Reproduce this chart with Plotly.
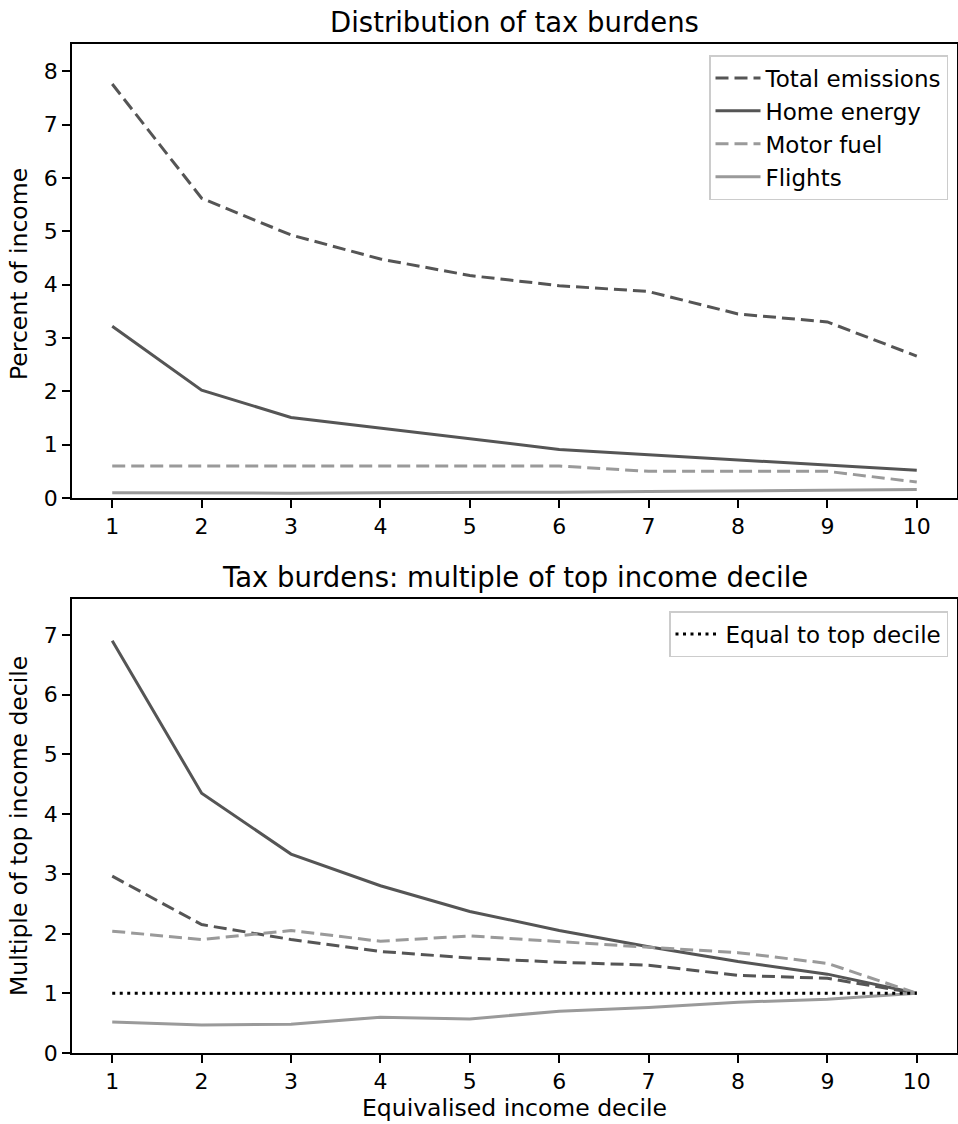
import plotly.graph_objects as go

deciles = [1, 2, 3, 4, 5, 6, 7, 8, 9, 10]

top_total = [7.76, 5.62, 4.93, 4.48, 4.17, 3.98, 3.87, 3.45, 3.30, 2.66]
top_home = [3.22, 2.02, 1.51, 1.31, 1.10, 0.91, 0.81, 0.71, 0.62, 0.52]
top_motor = [0.60, 0.60, 0.60, 0.60, 0.60, 0.60, 0.50, 0.50, 0.50, 0.30]
top_flights = [0.10, 0.09, 0.09, 0.10, 0.10, 0.11, 0.12, 0.13, 0.14, 0.16]

bot_total = [2.96, 2.15, 1.90, 1.70, 1.59, 1.52, 1.47, 1.30, 1.25, 1.00]
bot_home = [6.90, 4.35, 3.33, 2.80, 2.37, 2.05, 1.78, 1.53, 1.32, 1.00]
bot_motor = [2.04, 1.90, 2.05, 1.87, 1.96, 1.86, 1.77, 1.68, 1.50, 1.00]
bot_flights = [0.52, 0.47, 0.48, 0.60, 0.57, 0.70, 0.76, 0.85, 0.90, 1.00]
equal_top = [1, 1, 1, 1, 1, 1, 1, 1, 1, 1]

series_names = ["Total emissions", "Home energy", "Motor fuel", "Flights"]

DARK = "#555555"
LIGHT = "#9a9a9a"
DASH = "13px,6px"
styles = [
    dict(color=DARK, width=3, dash=DASH),
    dict(color=DARK, width=3),
    dict(color=LIGHT, width=3, dash=DASH),
    dict(color=LIGHT, width=3),
]

fig = go.Figure()

for name, ys, st in zip(series_names, [top_total, top_home, top_motor, top_flights], styles):
    fig.add_trace(go.Scatter(x=deciles, y=ys, mode="lines", name=name, line=st,
                             xaxis="x", yaxis="y", legend="legend"))

for name, ys, st in zip(series_names, [bot_total, bot_home, bot_motor, bot_flights], styles):
    fig.add_trace(go.Scatter(x=deciles, y=ys, mode="lines", name=name, line=st,
                             xaxis="x2", yaxis="y2", showlegend=False))

fig.add_trace(go.Scatter(x=deciles, y=equal_top, mode="lines", name="Equal to top decile",
                         line=dict(color="black", width=3, dash="3px,4.5px"),
                         xaxis="x2", yaxis="y2", legend="legend2"))

FONT = "DejaVu Sans"
axis_common = dict(
    showline=True, linecolor="black", linewidth=1.5, mirror=True,
    ticks="outside", ticklen=8, tickwidth=1.5, tickcolor="black",
    showgrid=False, zeroline=False, automargin=False,
    tickfont=dict(family=FONT, size=22, color="black"),
)

H_plot = 1124 - 44 - 71
top_dom = [(1053 - 498) / H_plot, 1.0]
bot_dom = [0.0, (1053 - 599) / H_plot]

legend_common = dict(xanchor="right", yanchor="top",
                     bgcolor="white", bordercolor="#cccccc", borderwidth=1.5,
                     font=dict(family=FONT, size=23, color="black"), itemwidth=45)

fig.update_layout(
    template="none",
    autosize=False,
    width=958, height=1124,
    margin=dict(l=72, r=1, t=44, b=71, pad=0),
    plot_bgcolor="white", paper_bgcolor="white",
    font=dict(family=FONT, size=22, color="black"),
    xaxis=dict(axis_common, range=[0.55, 10.45], tickvals=deciles, anchor="y"),
    yaxis=dict(axis_common, range=[0, 8.51], dtick=1, domain=top_dom, anchor="x"),
    xaxis2=dict(axis_common, range=[0.55, 10.45], tickvals=deciles, anchor="y2"),
    yaxis2=dict(axis_common, range=[0, 7.6], dtick=1, domain=bot_dom, anchor="x2"),
    legend=dict(legend_common, x=(948 - 72) / 885, y=(1053 - 55) / H_plot),
    legend2=dict(legend_common, x=(948 - 72) / 885, y=(1053 - 611) / H_plot),
    annotations=[
        dict(text="Distribution of tax burdens", xref="paper", yref="paper",
             x=0.5, y=(1053 - 22) / H_plot, xanchor="center", yanchor="middle",
             showarrow=False, font=dict(family=FONT, size=27.5, color="black")),
        dict(text="Tax burdens: multiple of top income decile", xref="paper", yref="paper",
             x=0.5, y=(1053 - 577) / H_plot, xanchor="center", yanchor="middle",
             showarrow=False, font=dict(family=FONT, size=27.5, color="black")),
        dict(text="Percent of income", xref="paper", yref="paper",
             x=-53 / 885, y=(1053 - 274) / H_plot, xanchor="center", yanchor="middle",
             textangle=-90, showarrow=False, font=dict(family=FONT, size=23.5, color="black")),
        dict(text="Multiple of top income decile", xref="paper", yref="paper",
             x=-53 / 885, y=(1053 - 826) / H_plot, xanchor="center", yanchor="middle",
             textangle=-90, showarrow=False, font=dict(family=FONT, size=23.5, color="black")),
        dict(text="Equivalised income decile", xref="paper", yref="paper",
             x=0.5, y=(1053 - 1108) / H_plot, xanchor="center", yanchor="middle",
             showarrow=False, font=dict(family=FONT, size=23.5, color="black")),
    ],
)

fig.write_html(
    "out.html",
    config={"responsive": False, "displayModeBar": False},
    post_script="document.body.style.margin='0';document.body.style.overflow='hidden';",
)
